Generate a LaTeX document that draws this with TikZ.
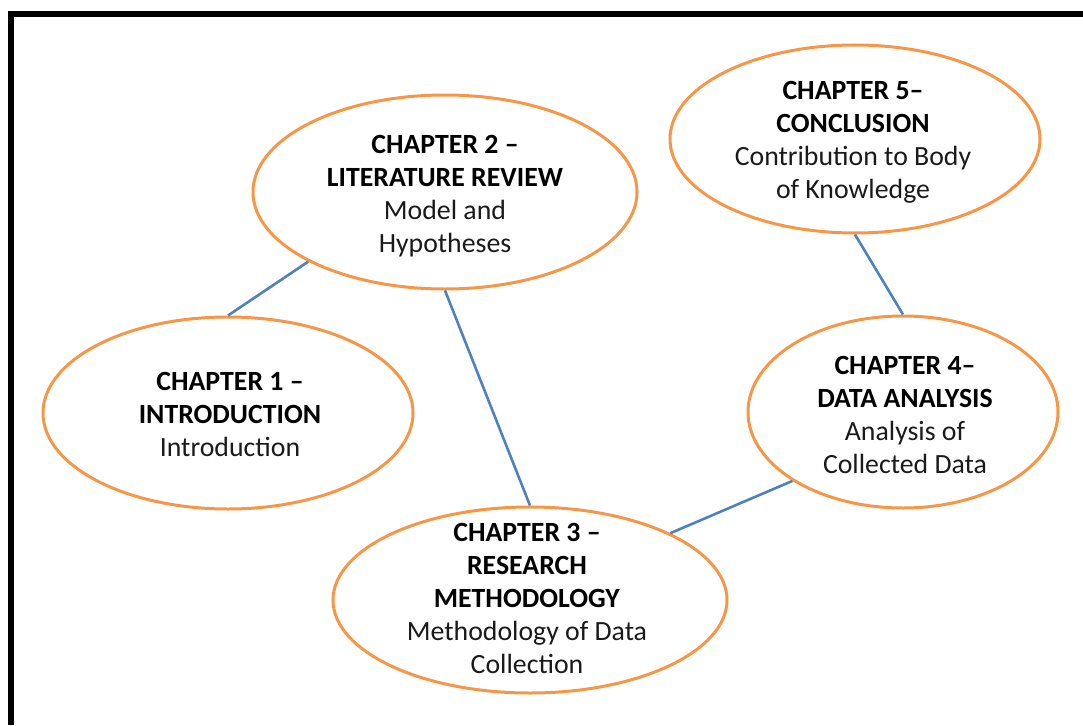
\documentclass[tikz,border=0pt]{standalone}
\usepackage{fontspec}
\setmainfont{Carlito}
\usetikzlibrary{shapes.geometric}
\definecolor{ovalorange}{HTML}{F79646}
\definecolor{linkblue}{HTML}{4F81BD}
\definecolor{subtext}{HTML}{1A1A1A}
\tikzset{
  oval/.style={ellipse, draw=ovalorange, line width=3pt, inner sep=0pt},
  ovaltext/.style={align=center, inner sep=0pt, font=\fontsize{27.8}{33}\selectfont},
  link/.style={draw=linkblue, line width=2.6pt},
  frameline/.style={draw=black, line width=6pt}
}
\newcommand{\ttl}[1]{\textbf{#1}}
\newcommand{\sub}[1]{\textcolor{subtext}{#1}}
\begin{document}
\begin{tikzpicture}[x=1pt,y=-1pt]
\useasboundingbox (0,0) rectangle (1083,725);
% frame
\coordinate (fbl) at (11,725);
\coordinate (ftl) at (11,14);
\coordinate (ftr) at (1083,14);
\draw[frameline] (fbl) -- (ftl) -- (ftr);
% ovals
\node[oval, minimum width=384pt, minimum height=194pt] (ch2) at (445,192) {};
\node[oval, minimum width=370pt, minimum height=188pt] (ch5) at (855,139) {};
\node[oval, minimum width=370pt, minimum height=192pt] (ch1) at (228,413) {};
\node[oval, minimum width=310pt, minimum height=192pt] (ch4) at (903,412) {};
\node[oval, minimum width=394pt, minimum height=186pt] (ch3) at (530,600) {};
% texts
\node[ovaltext] (t2) at (445,196) {\ttl{CHAPTER 2 –}\\\ttl{LITERATURE REVIEW}\\\sub{Model and}\\\sub{Hypotheses}};
\node[ovaltext] (t5) at (853,142) {\ttl{CHAPTER 5–}\\\ttl{CONCLUSION}\\\sub{Contribution to Body}\\\sub{of Knowledge}};
\node[ovaltext] (t1) at (230,414) {\ttl{CHAPTER 1 –}\\\ttl{INTRODUCTION}\\\sub{Introduction}};
\node[ovaltext] (t4) at (905,415) {\ttl{CHAPTER 4–}\\\ttl{DATA ANALYSIS}\\\sub{Analysis of}\\\sub{Collected Data}};
\node[ovaltext] (t3) at (527,598) {\ttl{CHAPTER 3 –}\\\ttl{RESEARCH}\\\ttl{METHODOLOGY}\\\sub{Methodology of Data}\\\sub{Collection}};
% connectors
\draw[link] (ch2.south west) -- (ch1.north);
\draw[link] (ch2.south) -- (ch3.north);
\draw[link] (ch3.north east) -- (ch4.south west);
\draw[link] (ch5.south) -- (ch4.north);
\end{tikzpicture}
\end{document}
